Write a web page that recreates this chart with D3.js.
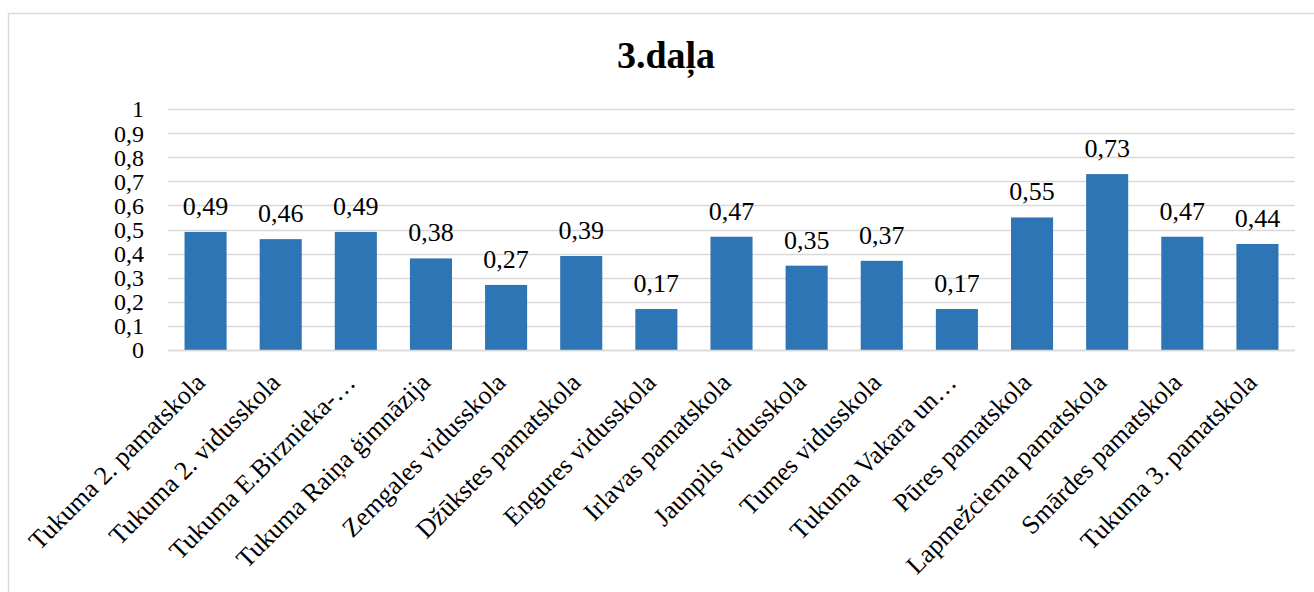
<!DOCTYPE html>
<html>
<head>
<meta charset="utf-8">
<script src="https://cdn.jsdelivr.net/npm/d3@7"></script>
<style>
  html, body { margin: 0; padding: 0; background: #fff; }
  svg { display: block; }
  text { font-family: "Liberation Serif", "Times New Roman", serif; fill: #000; }
</style>
</head>
<body>
<svg id="chart" width="1314" height="592"></svg>
<script>
const categories = [
  "Tukuma 2. pamatskola",
  "Tukuma 2. vidusskola",
  "Tukuma E.Birznieka-…",
  "Tukuma Raiņa ģimnāzija",
  "Zemgales vidusskola",
  "Džūkstes pamatskola",
  "Engures vidusskola",
  "Irlavas pamatskola",
  "Jaunpils vidusskola",
  "Tumes vidusskola",
  "Tukuma Vakara un…",
  "Pūres pamatskola",
  "Lapmežciema pamatskola",
  "Smārdes pamatskola",
  "Tukuma 3. pamatskola"
];
const values = [0.49, 0.46, 0.49, 0.38, 0.27, 0.39, 0.17, 0.47, 0.35, 0.37, 0.17, 0.55, 0.73, 0.47, 0.44];
const yTicks = [0, 0.1, 0.2, 0.3, 0.4, 0.5, 0.6, 0.7, 0.8, 0.9, 1];
const title = "3.daļa";

const svg = d3.select("#chart");
const plot = { left: 168, right: 1295, top: 109, bottom: 350 };

const fmt = v => String(v).replace(".", ",");

// outer frame
svg.append("rect")
  .attr("x", 8.5).attr("y", 13.5)
  .attr("width", 1400).attr("height", 700)
  .attr("fill", "none").attr("stroke", "#D9D9D9").attr("stroke-width", 1.5);

const x = d3.scaleBand()
  .domain(categories)
  .range([plot.left, plot.right])
  .paddingInner(0.44)
  .paddingOuter(0.22);

const y = d3.scaleLinear().domain([0, 1]).range([plot.bottom, plot.top]);

// gridlines
svg.append("g")
  .selectAll("line")
  .data(yTicks)
  .join("line")
  .attr("x1", plot.left).attr("x2", plot.right)
  .attr("y1", d => Math.round(y(d)) + 0.5).attr("y2", d => Math.round(y(d)) + 0.5)
  .attr("stroke", "#D9D9D9").attr("stroke-width", 1.5);

// y axis labels via d3 axis
const yAxis = d3.axisLeft(y).tickValues(yTicks).tickFormat(fmt).tickSize(0).tickPadding(0);
const gy = svg.append("g").attr("transform", `translate(${plot.left - 24},0)`).call(yAxis);
gy.select(".domain").remove();
gy.selectAll("text")
  .attr("font-family", "Liberation Serif, Times New Roman, serif")
  .attr("font-size", 24)
  .attr("fill", "#000")
  .attr("dy", "0.33em");

// bars
svg.append("g")
  .selectAll("rect")
  .data(values)
  .join("rect")
  .attr("x", (d, i) => x(categories[i]))
  .attr("width", x.bandwidth())
  .attr("y", d => y(d))
  .attr("height", d => y(0) - y(d))
  .attr("fill", "#2E75B6");

// baseline
svg.append("line")
  .attr("x1", plot.left).attr("x2", plot.right)
  .attr("y1", plot.bottom + 0.5).attr("y2", plot.bottom + 0.5)
  .attr("stroke", "#D9D9D9").attr("stroke-width", 1.5);

// data labels
svg.append("g")
  .selectAll("text")
  .data(values)
  .join("text")
  .attr("x", (d, i) => x(categories[i]) + x.bandwidth() / 2)
  .attr("y", d => y(d) - 17)
  .attr("text-anchor", "middle")
  .attr("font-size", 26)
  .text(d => fmt(d));

// category labels
svg.append("g")
  .selectAll("text")
  .data(categories)
  .join("text")
  .attr("transform", d => `translate(${x(d) + x.bandwidth() / 2 + 1},${plot.bottom + 34}) rotate(-45)`)
  .attr("text-anchor", "end")
  .attr("font-size", 26)
  .text(d => d);

// title
svg.append("text")
  .attr("x", 666).attr("y", 68)
  .attr("text-anchor", "middle")
  .attr("font-size", 38)
  .attr("font-weight", "bold")
  .text(title);
</script>
</body>
</html>
